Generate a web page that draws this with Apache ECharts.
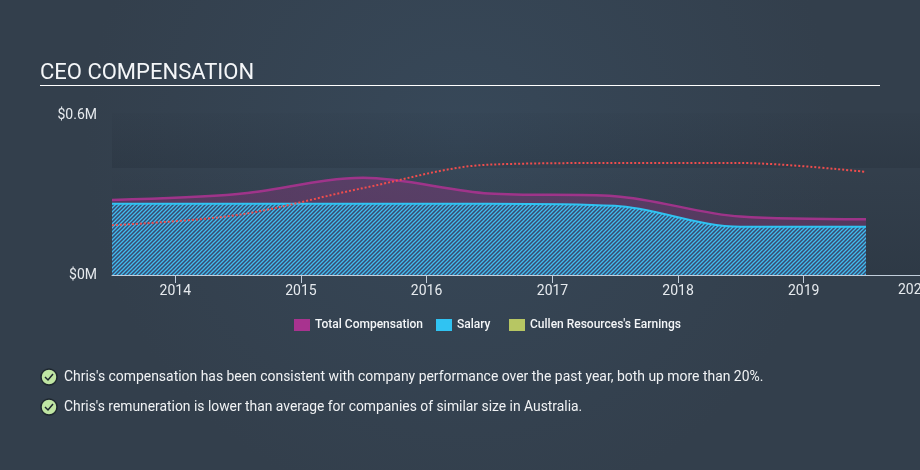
<!DOCTYPE html>
<html>
<head>
<meta charset="utf-8">
<style>
  html, body { margin: 0; padding: 0; background: #354452; }
  #chart { width: 920px; height: 470px; }
</style>
<script src="https://cdn.jsdelivr.net/npm/echarts@6/dist/echarts.min.js"></script>
</head>
<body>
<div id="chart"></div>
<script>
const dates = ["2013-07-01", "2014-07-01", "2015-07-01", "2016-07-01", "2017-07-01", "2018-07-01", "2019-07-01"];
const totalComp = [0.279, 0.301, 0.361, 0.303, 0.293, 0.217, 0.207];
const salary = [0.265, 0.265, 0.265, 0.265, 0.257, 0.179, 0.179];
const earnings = [0.185, 0.223, 0.323, 0.41, 0.416, 0.416, 0.383];
const xTicks = ["2014-01-01", "2015-01-01", "2016-01-01", "2017-01-01", "2018-01-01", "2019-01-01"];
const notes = [
  "Chris's compensation has been consistent with company performance over the past year, both up more than 20%.",
  "Chris's remuneration is lower than average for companies of similar size in Australia.",
];

// diagonal hatch used under the salary line
function hatch() {
  const c = document.createElement("canvas");
  c.width = 4;
  c.height = 4;
  const ctx = c.getContext("2d");
  ctx.fillStyle = "#394a70";
  ctx.fillRect(0, 0, 4, 4);
  ctx.strokeStyle = "#41bdee";
  ctx.lineWidth = 1.3;
  ctx.beginPath();
  ctx.moveTo(-1, 1);
  ctx.lineTo(1, -1);
  ctx.moveTo(-1, 5);
  ctx.lineTo(5, -1);
  ctx.moveTo(3, 5);
  ctx.lineTo(5, 3);
  ctx.stroke();
  return c;
}

function pairs(values) {
  return dates.map((d, i) => [d, values[i]]);
}

function checkIcon(cy) {
  return [
    {
      type: "circle",
      shape: { cx: 49, cy: cy, r: 8 },
      style: { fill: "#bfe5a3", stroke: "#1d262e", lineWidth: 1.5 },
    },
    {
      type: "polyline",
      shape: { points: [[45, cy], [48, cy + 3], [53, cy - 3]] },
      style: { fill: null, stroke: "#1d262e", lineWidth: 1.5 },
    },
  ];
}

function legendAt(name, left) {
  return {
    left: left,
    top: 319,
    data: [name],
    icon: "rect",
    itemWidth: 16,
    itemHeight: 12,
    itemGap: 0,
    padding: 0,
    selectedMode: false,
    textStyle: { color: "#f4f6f8", fontFamily: "Roboto", fontWeight: 500, fontSize: 12 },
  };
}

const chart = echarts.init(document.getElementById("chart"), null, { renderer: "canvas" });
chart.setOption({
  animation: false,
  backgroundColor: new echarts.graphic.RadialGradient(0.5, 0.3, 0.8, [
    { offset: 0, color: "#374859" },
    { offset: 1, color: "#333f4c" },
  ]),
  title: {
    text: "CEO COMPENSATION",
    left: 40,
    top: 62,
    padding: 0,
    textStyle: { color: "#f4f6f8", fontFamily: "Roboto", fontWeight: 400, fontSize: 22 },
  },
  grid: { left: 112, right: -20, top: 113.5, bottom: 195, outerBoundsMode: "none" },
  legend: [
    legendAt("Total Compensation", 294),
    legendAt("Salary", 436),
    legendAt("Cullen Resources's Earnings", 509),
  ],
  xAxis: {
    type: "time",
    min: "2013-07-01",
    max: "2020-02-01",
    axisLine: { lineStyle: { color: "#c2cedb", width: 1 } },
    axisTick: { show: true, length: 8, customValues: xTicks, lineStyle: { color: "#c2cedb" } },
    axisLabel: {
      customValues: xTicks,
      formatter: "{yyyy}",
      color: "#e6eaee",
      fontFamily: "Roboto",
      fontSize: 14,
      margin: 9,
      hideOverlap: false,
    },
    splitLine: { show: false },
  },
  yAxis: {
    type: "value",
    min: 0,
    max: 0.6,
    interval: 0.6,
    axisLine: { show: false },
    axisTick: { show: false },
    splitLine: { show: false },
    axisLabel: {
      // top label needs a small nudge down to sit on its gridline
      formatter: (v) => (v > 0 ? "{top|$" + v + "M}" : "$" + v + "M"),
      color: "#e6eaee",
      fontFamily: "Roboto",
      fontSize: 14,
      margin: 15,
      verticalAlignMaxLabel: "middle",
      rich: {
        top: { color: "#e6eaee", fontFamily: "Roboto", fontSize: 14, padding: [3, 0, 0, 0] },
      },
    },
  },
  series: [
    {
      name: "Total Compensation",
      type: "line",
      data: pairs(totalComp),
      smooth: 0.33,
      showSymbol: false,
      itemStyle: { color: "#a8338f" },
      lineStyle: { color: "#a8338f", width: 2.5, opacity: 0.9 },
      areaStyle: { color: "#a8338f", opacity: 0.3 },
      z: 2,
    },
    {
      name: "Salary",
      type: "line",
      data: pairs(salary),
      smooth: 0.33,
      showSymbol: false,
      itemStyle: { color: "#30c3f2" },
      lineStyle: { color: "#30c3f2", width: 2 },
      areaStyle: { color: { image: hatch(), repeat: "repeat" }, opacity: 1 },
      z: 3,
    },
    {
      name: "Cullen Resources's Earnings",
      type: "line",
      data: pairs(earnings),
      smooth: 0.33,
      showSymbol: false,
      itemStyle: { color: "#b7c663" },
      lineStyle: { color: "#f04d4d", width: 2, type: [2, 2] },
      z: 4,
    },
  ],
  graphic: [
    {
      type: "rect",
      silent: true,
      z: -1,
      shape: { x: 40, y: 85, width: 840, height: 1 },
      style: { fill: "#ffffff" },
    },
    {
      type: "rect",
      silent: true,
      z: -1,
      shape: { x: 112, y: 113, width: 808, height: 55 },
      style: {
        fill: new echarts.graphic.LinearGradient(0, 0, 0, 1, [
          { offset: 0, color: "rgba(20,28,38,0.03)" },
          { offset: 1, color: "rgba(20,28,38,0.16)" },
        ]),
      },
    },
    {
      type: "rect",
      silent: true,
      z: -1,
      shape: { x: 112, y: 168, width: 808, height: 107 },
      style: {
        fill: new echarts.graphic.LinearGradient(0, 0, 0, 1, [
          { offset: 0, color: "rgba(20,28,38,0)" },
          { offset: 1, color: "rgba(20,28,38,0.16)" },
        ]),
      },
    },
    // the 2020 label sits clipped at the right edge, left of its own tick
    {
      type: "text",
      style: { x: 898, y: 290, text: "2020", fill: "#e6eaee", font: "14px Roboto", textVerticalAlign: "middle" },
    },
    ...checkIcon(377),
    ...checkIcon(407),
    {
      type: "text",
      style: { x: 64, y: 377.5, text: notes[0], fill: "#f0f2f4", font: "13.93px Roboto", textVerticalAlign: "middle" },
    },
    {
      type: "text",
      style: { x: 64, y: 407.5, text: notes[1], fill: "#f0f2f4", font: "13.87px Roboto", textVerticalAlign: "middle" },
    },
  ],
});
</script>
</body>
</html>
